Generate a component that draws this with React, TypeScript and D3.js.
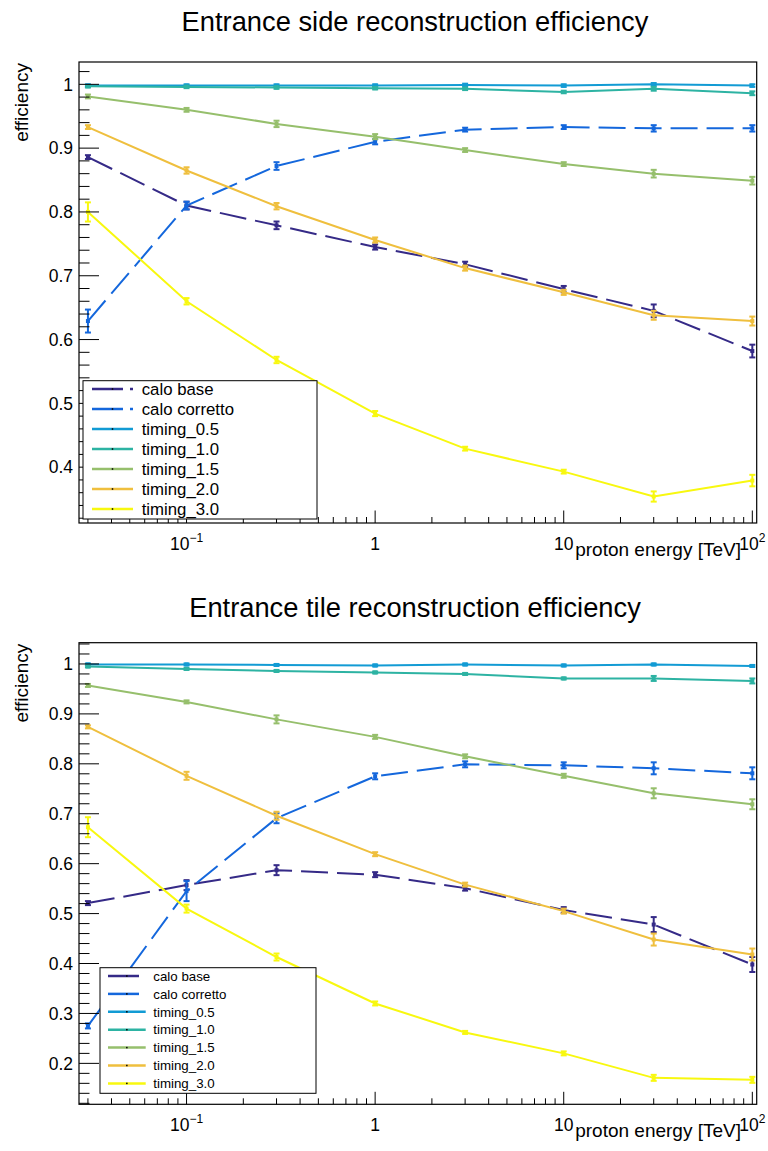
import React from "react";
import * as d3 from "d3";

const energies = [0.03, 0.1, 0.3, 1, 3, 10, 30, 100];
const seriesNames = ["calo base", "calo corretto", "timing_0.5", "timing_1.0", "timing_1.5", "timing_2.0", "timing_3.0"];
const seriesColors = ["#352a87", "#1467dc", "#129bd4", "#2db3a3", "#96bf6c", "#efbf3e", "#f8f80f"];
const seriesDash = ["27,9", "27,9", null, null, null, null, null];

// Entrance side
const sideCaloBase = [0.886, 0.810, 0.779, 0.745, 0.718, 0.679, 0.645, 0.582];
const sideCaloBaseErr = [0.003, 0.006, 0.006, 0.004, 0.004, 0.005, 0.01, 0.01];
const sideCaloCorr = [0.629, 0.810, 0.872, 0.910, 0.929, 0.933, 0.931, 0.931];
const sideCaloCorrErr = [0.018, 0.006, 0.006, 0.004, 0.003, 0.003, 0.005, 0.005];
const sideT05 = [0.998, 0.998, 0.998, 0.998, 0.999, 0.998, 1.0, 0.998];
const sideT05Err = [0.002, 0.002, 0.002, 0.002, 0.002, 0.002, 0.002, 0.002];
const sideT10 = [0.997, 0.996, 0.995, 0.994, 0.993, 0.988, 0.993, 0.986];
const sideT10Err = [0.002, 0.002, 0.002, 0.002, 0.002, 0.002, 0.003, 0.003];
const sideT15 = [0.981, 0.960, 0.938, 0.918, 0.897, 0.875, 0.860, 0.849];
const sideT15Err = [0.003, 0.003, 0.005, 0.004, 0.003, 0.003, 0.006, 0.006];
const sideT20 = [0.933, 0.865, 0.809, 0.756, 0.712, 0.674, 0.638, 0.629];
const sideT20Err = [0.003, 0.005, 0.005, 0.004, 0.004, 0.004, 0.007, 0.007];
const sideT30 = [0.800, 0.660, 0.568, 0.484, 0.429, 0.393, 0.354, 0.379];
const sideT30Err = [0.015, 0.005, 0.005, 0.004, 0.003, 0.003, 0.008, 0.009];

// Entrance tile
const tileCaloBase = [0.521, 0.557, 0.587, 0.578, 0.551, 0.507, 0.478, 0.398];
const tileCaloBaseErr = [0.004, 0.01, 0.01, 0.005, 0.005, 0.006, 0.015, 0.015];
const tileCaloCorr = [0.275, 0.545, 0.691, 0.775, 0.799, 0.797, 0.791, 0.781];
const tileCaloCorrErr = [0.005, 0.02, 0.01, 0.006, 0.006, 0.006, 0.012, 0.012];
const tileT05 = [0.999, 0.999, 0.998, 0.997, 0.999, 0.997, 0.999, 0.996];
const tileT05Err = [0.002, 0.002, 0.002, 0.002, 0.002, 0.002, 0.002, 0.002];
const tileT10 = [0.995, 0.990, 0.986, 0.983, 0.980, 0.971, 0.971, 0.966];
const tileT10Err = [0.002, 0.002, 0.002, 0.002, 0.002, 0.002, 0.005, 0.005];
const tileT15 = [0.957, 0.924, 0.889, 0.854, 0.815, 0.776, 0.741, 0.719];
const tileT15Err = [0.003, 0.003, 0.008, 0.004, 0.004, 0.004, 0.01, 0.01];
const tileT20 = [0.874, 0.776, 0.696, 0.619, 0.558, 0.505, 0.448, 0.418];
const tileT20Err = [0.003, 0.008, 0.008, 0.004, 0.004, 0.005, 0.012, 0.012];
const tileT30 = [0.673, 0.510, 0.413, 0.320, 0.262, 0.220, 0.171, 0.167];
const tileT30Err = [0.02, 0.008, 0.007, 0.004, 0.003, 0.004, 0.006, 0.006];

const sideValues = [sideCaloBase, sideCaloCorr, sideT05, sideT10, sideT15, sideT20, sideT30];
const sideErrors = [sideCaloBaseErr, sideCaloCorrErr, sideT05Err, sideT10Err, sideT15Err, sideT20Err, sideT30Err];
const tileValues = [tileCaloBase, tileCaloCorr, tileT05, tileT10, tileT15, tileT20, tileT30];
const tileErrors = [tileCaloBaseErr, tileCaloCorrErr, tileT05Err, tileT10Err, tileT15Err, tileT20Err, tileT30Err];

const xMajorTicks = [0.1, 1, 10, 100];
const xMajorLabels = [["10", "\u22121"], ["1", ""], ["10", ""], ["10", "2"]];

const FONT = "'Liberation Sans', Arial, Helvetica, sans-serif";

type PanelProps = {
  title: string;
  titleY: number;
  titleSize: number;
  top: number;
  bottom: number;
  yMin: number;
  yMax: number;
  yMajors: number[];
  values: number[][];
  errors: number[][];
  legend: { x0: number; y0: number; x1: number; y1: number; fontSize: number; firstY: number; step: number; lineX0: number; lineX1: number; textX: number };
};

function Panel(p: PanelProps) {
  const left = 79;
  const right = 756.7;
  const x = d3.scaleLog().domain([0.0269, 105.5]).range([left, right]);
  const y = d3.scaleLinear().domain([p.yMin, p.yMax]).range([p.bottom, p.top]);
  const yMajorLen = 20;
  const yMinorLen = 10.5;
  const yMinors: number[] = [];
  for (let v = Math.ceil(p.yMin / 0.02) * 0.02; v <= p.yMax + 1e-9; v += 0.02) {
    const r = Math.round(v * 100) / 100;
    if (Math.abs(r * 10 - Math.round(r * 10)) > 1e-6) yMinors.push(r);
  }
  const xMinors: number[] = [];
  for (const dec of [0.01, 0.1, 1, 10]) {
    for (let k = 2; k <= 9; k++) {
      const v = k * dec;
      if (v >= 0.0269 && v <= 105.5) xMinors.push(v);
    }
  }
  const line = d3
    .line<number>()
    .x((_, i) => x(energies[i]))
    .y((d) => y(d));
  return (
    <g fontFamily={FONT}>
      <text x={415} y={p.titleY} fontSize={p.titleSize} textAnchor="middle" fill="#000">
        {p.title}
      </text>
      {p.values.map((vals, s) => (
        <g key={s}>
          <path
            d={line(vals) || ""}
            fill="none"
            stroke={seriesColors[s]}
            strokeWidth={2}
            strokeDasharray={seriesDash[s] || undefined}
          />
          {vals.map((v, i) => {
            const e = p.errors[s][i];
            const cx = x(energies[i]);
            return (
              <g key={i} stroke={seriesColors[s]} strokeWidth={2}>
                <line x1={cx} x2={cx} y1={y(v - e)} y2={y(v + e)} />
                <line x1={cx - 3} x2={cx + 3} y1={y(v - e)} y2={y(v - e)} />
                <line x1={cx - 3} x2={cx + 3} y1={y(v + e)} y2={y(v + e)} />
                <rect x={cx - 2} y={y(v) - 2} width={4} height={4} fill={seriesColors[s]} stroke="none" />
              </g>
            );
          })}
        </g>
      ))}
      <rect x={left} y={p.top} width={right - left} height={p.bottom - p.top} fill="none" stroke="#000" strokeWidth={1.2} />
      {p.yMajors.map((v) => (
        <g key={"ym" + v}>
          <line x1={left} x2={left + yMajorLen} y1={y(v)} y2={y(v)} stroke="#000" strokeWidth={1} />
          <text x={73} y={y(v)} dy="0.36em" fontSize={17.5} textAnchor="end" fill="#000">
            {v === 1 ? "1" : v.toFixed(1)}
          </text>
        </g>
      ))}
      {yMinors.map((v) => (
        <line key={"yn" + v} x1={left} x2={left + yMinorLen} y1={y(v)} y2={y(v)} stroke="#000" strokeWidth={1} />
      ))}
      {xMajorTicks.map((v, i) => (
        <g key={"xm" + v}>
          <line x1={x(v)} x2={x(v)} y1={p.bottom} y2={p.bottom - 12.5} stroke="#000" strokeWidth={1} />
          <text x={x(v)} y={p.bottom + 27} fontSize={17.5} textAnchor="middle" fill="#000">
            {xMajorLabels[i][0]}
            {xMajorLabels[i][1] ? (
              <tspan fontSize={12} dy={-8}>
                {xMajorLabels[i][1]}
              </tspan>
            ) : null}
          </text>
        </g>
      ))}
      {xMinors.map((v) => (
        <line key={"xn" + v} x1={x(v)} x2={x(v)} y1={p.bottom} y2={p.bottom - 6} stroke="#000" strokeWidth={1} />
      ))}
      <text x={741} y={p.bottom + 33} fontSize={19} textAnchor="end" fill="#000">
        proton energy [TeV]
      </text>
      <text transform={`translate(28,${p.top + 1}) rotate(-90)`} fontSize={19} textAnchor="end" fill="#000">
        efficiency
      </text>
      <rect
        x={p.legend.x0}
        y={p.legend.y0}
        width={p.legend.x1 - p.legend.x0}
        height={p.legend.y1 - p.legend.y0}
        fill="#fff"
        stroke="#000"
        strokeWidth={1}
      />
      {seriesNames.map((name, s) => {
        const cy = p.legend.firstY + s * p.legend.step;
        const mid = (p.legend.lineX0 + p.legend.lineX1) / 2;
        return (
          <g key={"lg" + s}>
            <line
              x1={p.legend.lineX0}
              x2={p.legend.lineX1}
              y1={cy}
              y2={cy}
              stroke={seriesColors[s]}
              strokeWidth={2.5}
              strokeDasharray={seriesDash[s] ? "31,7" : undefined}
            />
            <rect x={mid - 0.75} y={cy - 0.75} width={1.5} height={1.5} fill="#000" />
            <text x={p.legend.textX} y={cy} dy="0.36em" fontSize={p.legend.fontSize} fill="#000">
              {name}
            </text>
          </g>
        );
      })}
    </g>
  );
}

export default function App() {
  return (
    <svg
      width={768}
      height={1151}
      viewBox="0 0 768 1151"
      style={{ position: "absolute", left: 0, top: 0, background: "#fff" }}
    >
      <rect x={0} y={0} width={768} height={1151} fill="#fff" />
      <Panel
        title="Entrance side reconstruction efficiency"
        titleY={31}
        titleSize={27.3}
        top={62}
        bottom={523}
        yMin={0.3125}
        yMax={1.035}
        yMajors={[0.4, 0.5, 0.6, 0.7, 0.8, 0.9, 1]}
        values={sideValues}
        errors={sideErrors}
        legend={{ x0: 83, y0: 380.7, x1: 317, y1: 519, fontSize: 16.8, firstY: 389, step: 20, lineX0: 92, lineX1: 133, textX: 141.7 }}
      />
      <Panel
        title="Entrance tile reconstruction efficiency"
        titleY={616.5}
        titleSize={27.3}
        top={642.7}
        bottom={1104.3}
        yMin={0.118}
        yMax={1.0426}
        yMajors={[0.2, 0.3, 0.4, 0.5, 0.6, 0.7, 0.8, 0.9, 1]}
        values={tileValues}
        errors={tileErrors}
        legend={{ x0: 100, y0: 967.7, x1: 316, y1: 1093.3, fontSize: 13.3, firstY: 976, step: 17.9, lineX0: 108, lineX1: 145.7, textX: 153.3 }}
      />
    </svg>
  );
}
